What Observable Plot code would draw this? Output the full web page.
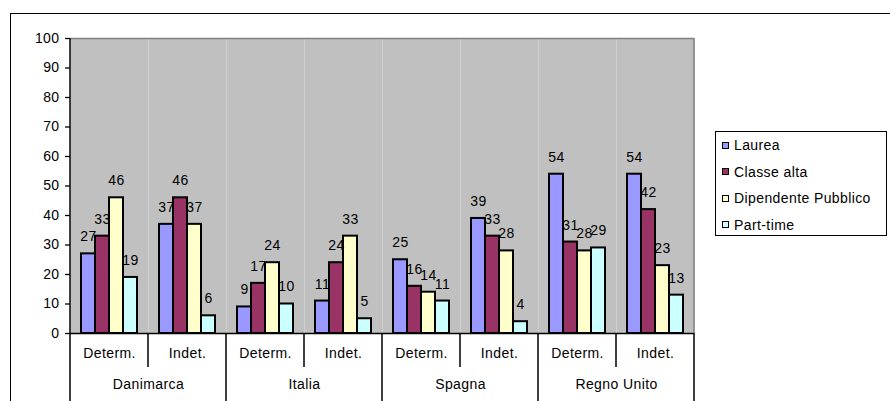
<!DOCTYPE html>
<html><head><meta charset="utf-8">
<script src="https://cdn.jsdelivr.net/npm/d3@7"></script>
<script src="https://cdn.jsdelivr.net/npm/@observablehq/plot@0.6"></script>
<style>
body{margin:0;background:#fff;font-family:"Liberation Sans",Arial,sans-serif;}
#wrap{position:relative;width:890px;height:401px;overflow:hidden;}
#frame{position:absolute;left:10px;top:13px;width:900px;height:400px;border-left:1px solid #000;border-top:1px solid #000;pointer-events:none;}
#chart{position:absolute;left:0;top:0;}
#legend{position:absolute;left:715px;top:131px;width:172px;height:105px;border:1px solid #000;background:#fff;box-sizing:border-box;padding-left:6px;}
.row{height:26.5px;display:flex;align-items:center;font-size:14px;letter-spacing:0.4px;color:#000;}
.sw{width:5px;height:5px;border:1.8px solid #000;margin-right:5px;flex:none;}
</style>
</head><body>
<div id="wrap"><div id="chart"></div><div id="frame"></div><div id="legend"></div></div>
<script>
const countries = ["Danimarca", "Italia", "Spagna", "Regno Unito"];
const contracts = ["Determ.", "Indet."];
const series = ["Laurea", "Classe alta", "Dipendente Pubblico", "Part-time"];
const colors = ["#9999FF", "#993366", "#FFFFCC", "#CCFFFF"];
// values per slot: Danimarca Determ., Danimarca Indet., Italia Determ., Italia Indet., Spagna Determ., Spagna Indet., Regno Unito Determ., Regno Unito Indet.
const laurea = [27, 37, 9, 11, 25, 39, 54, 54];
const classeAlta = [33, 46, 17, 24, 16, 33, 31, 42];
const dipendentePubblico = [46, 37, 24, 33, 14, 28, 28, 23];
const partTime = [19, 6, 10, 5, 11, 4, 29, 13];
const yTicks = [0, 10, 20, 30, 40, 50, 60, 70, 80, 90, 100];

const seriesValues = [laurea, classeAlta, dipendentePubblico, partTime];
const slots = [];
countries.forEach(c => contracts.forEach(k => slots.push({key: c + "|" + k, country: c, contract: k})));
const data = [];
slots.forEach((s, i) => series.forEach((name, j) => data.push({slot: s.key, country: s.country, contract: s.contract, series: name, value: seriesValues[j][i]})));

const plot = Plot.plot({
  width: 890, height: 401,
  marginLeft: 70, marginRight: 196, marginTop: 38, marginBottom: 68,
  style: {fontFamily: '"Liberation Sans", Arial, sans-serif', fontSize: "14px", background: "transparent", letterSpacing: "0.4px"},
  fx: {domain: slots.map(s => s.key), padding: 0, axis: null},
  x: {domain: series, paddingInner: 0, paddingOuter: 0.69, axis: null},
  y: {domain: [0, 100], axis: null},
  color: {domain: series, range: colors},
  marks: [
    Plot.frame({fill: "#C0C0C0", stroke: null}),
    Plot.ruleY([100], {stroke: "#808080", strokeWidth: 1.5}),
    Plot.barY(data, {fx: "slot", x: "series", y: "value", fill: "series", stroke: "#000", strokeWidth: 2}),
    Plot.text(data, {fx: "slot", x: "series", y: "value", text: d => String(d.value), dy: -17, fill: "#000"}),
    Plot.ruleY([0], {stroke: "#000", strokeWidth: 1.5}),
    Plot.axisY({ticks: yTicks, tickSize: 5, tickPadding: 6, label: null, stroke: "#000", fill: "#000", strokeWidth: 1.3}),
    Plot.text(slots, {fx: "key", text: "contract", frameAnchor: "bottom", dy: 24, fill: "#000"}),
    Plot.text(slots.filter(s => s.contract === contracts[0]), {fx: "key", text: "country", frameAnchor: "bottom-right", textAnchor: "middle", dy: 55, fill: "#000"})
  ]
});
document.getElementById("chart").appendChild(plot);

// category axis separators and plot-area edges from the library's scales
const fx = plot.scale("fx"), ys = plot.scale("y");
const svg = d3.select(plot);
const y0 = ys.apply(0), yTop = ys.apply(100), bw = fx.bandwidth, H = 401;
const g = svg.append("g").attr("stroke", "#000").attr("stroke-width", 1.5);
slots.forEach((s, i) => {
  const x = fx.apply(s.key);
  const start = s.contract === contracts[0];
  g.append("line").attr("x1", x).attr("x2", x)
    .attr("y1", i === 0 ? yTop : y0)
    .attr("y2", start ? H : y0 + 34);
});
const xr = fx.apply(slots[slots.length - 1].key) + bw;
g.append("line").attr("x1", xr).attr("x2", xr).attr("y1", y0).attr("y2", H);
svg.append("line").attr("x1", xr).attr("x2", xr).attr("y1", yTop).attr("y2", y0).attr("stroke", "#808080").attr("stroke-width", 1.5);

// legend
const lg = d3.select("#legend");
series.forEach((name, j) => {
  const r = lg.append("div").attr("class", "row");
  r.append("div").attr("class", "sw").style("background", colors[j]);
  r.append("span").text(name);
});
</script>
</body></html>
